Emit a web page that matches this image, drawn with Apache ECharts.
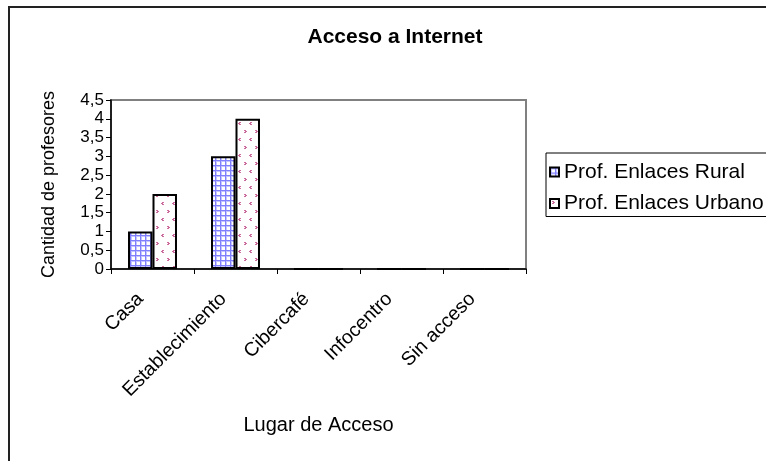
<!DOCTYPE html>
<html>
<head>
<meta charset="utf-8">
<script src="https://cdn.jsdelivr.net/npm/echarts@6/dist/echarts.min.js"></script>
<style>
  html, body { margin: 0; padding: 0; background: #fff; }
  #chart { width: 766px; height: 461px; }
</style>
</head>
<body>
<div id="chart"></div>
<script>
// Internet access of teachers by place of access
const categories = ['Casa', 'Establecimiento', 'Cibercafé', 'Infocentro', 'Sin acceso'];
const seriesNames = ['Prof. Enlaces Rural', 'Prof. Enlaces Urbano'];
const ruralValues = [1, 3, 0, 0, 0];
const urbanValues = [2, 4, 0, 0, 0];
const yTicks = { min: 0, max: 4.5, interval: 0.5 };

const FONT = '"Liberation Sans", Arial, sans-serif';

// Blue grid fill
function gridPattern() {
  const c = document.createElement('canvas');
  c.width = 5; c.height = 5;
  const g = c.getContext('2d');
  g.fillStyle = '#ffffff';
  g.fillRect(0, 0, 5, 5);
  g.fillStyle = '#c4c4ff';
  g.fillRect(0, 1, 5, 1);
  g.fillRect(1, 0, 1, 5);
  g.fillStyle = '#8080ff';
  g.fillRect(0, 0, 5, 1);
  g.fillRect(0, 0, 1, 5);
  return c;
}

// White fill with small magenta chevrons
function chevronPattern() {
  const c = document.createElement('canvas');
  c.width = 11; c.height = 16;
  const g = c.getContext('2d');
  g.fillStyle = '#ffffff';
  g.fillRect(0, 0, 11, 16);
  g.fillStyle = '#cc6a9e';
  // '>' mark
  const gt = (x, y) => {
    g.fillRect(x, y, 2, 1); g.fillRect(x + 1, y + 1, 2, 1); g.fillRect(x, y + 2, 2, 1);
  };
  // '<' mark
  const lt = (x, y) => {
    g.fillRect(x + 1, y, 2, 1); g.fillRect(x, y + 1, 2, 1); g.fillRect(x + 1, y + 2, 2, 1);
  };
  gt(2, 2);
  lt(7, 10);
  return c;
}

const chart = echarts.init(document.getElementById('chart'), null, { renderer: 'canvas' });

const barStyle = { borderColor: '#000', borderWidth: 2 };

chart.setOption({
  animation: false,
  backgroundColor: '#fff',
  title: {
    text: 'Acceso a Internet',
    left: 390,
    top: 22,
    textAlign: 'center',
    textStyle: { fontFamily: FONT, fontSize: 21, fontWeight: 'bold', color: '#000' }
  },
  legend: {
    data: seriesNames,
    orient: 'vertical',
    left: 546,
    top: 153,
    width: 400,
    padding: [8, 60, 2, 3],
    itemGap: 9.5,
    itemWidth: 9,
    itemHeight: 9,
    icon: 'rect',
    borderColor: '#000',
    borderWidth: 1,
    backgroundColor: '#fff',
    textStyle: { fontFamily: FONT, fontSize: 21, color: '#000', lineHeight: 22 }
  },
  graphic: [{
    type: 'rect',
    shape: { x: 9, y: 7, width: 800, height: 500 },
    style: { fill: 'none', stroke: '#222', lineWidth: 2 },
    silent: true,
    z: -1
  }],
  grid: {
    left: 111, top: 100, right: 240, bottom: 192,
    show: true,
    borderColor: '#808080',
    borderWidth: 2,
    backgroundColor: '#fff'
  },
  xAxis: {
    type: 'category',
    data: categories,
    name: 'Lugar de Acceso',
    nameLocation: 'middle',
    nameGap: 146,
    nameTextStyle: { fontFamily: FONT, fontSize: 20, color: '#000' },
    axisLine: { lineStyle: { color: '#000', width: 1.5 } },
    axisTick: { show: true, length: 5, alignWithLabel: false, lineStyle: { color: '#000', width: 1 } },
    axisLabel: {
      rotate: 45,
      margin: 15,
      padding: [0, 17, 0, 0],
      fontFamily: FONT, fontSize: 19.5, color: '#000',
      interval: 0
    }
  },
  yAxis: {
    type: 'value',
    min: yTicks.min,
    max: yTicks.max,
    interval: yTicks.interval,
    name: 'Cantidad de profesores',
    nameLocation: 'middle',
    nameGap: 53,
    nameRotate: 90,
    nameTextStyle: { fontFamily: FONT, fontSize: 18, color: '#000' },
    axisLine: { show: true, lineStyle: { color: '#000', width: 1.5 } },
    axisTick: { show: true, length: 5, lineStyle: { color: '#000', width: 1 } },
    splitLine: { show: false },
    axisLabel: {
      margin: 7,
      fontFamily: FONT, fontSize: 17, color: '#000',
      formatter: v => String(v).replace('.', ',')
    }
  },
  series: [
    {
      name: seriesNames[0],
      type: 'bar',
      data: ruralValues,
      barGap: '0%',
      barCategoryGap: '41%',
      itemStyle: Object.assign({ color: { image: gridPattern(), repeat: 'repeat' } }, barStyle)
    },
    {
      name: seriesNames[1],
      type: 'bar',
      data: urbanValues,
      barGap: '0%',
      barCategoryGap: '41%',
      itemStyle: Object.assign({ color: { image: chevronPattern(), repeat: 'repeat' } }, barStyle)
    }
  ]
});
</script>
</body>
</html>
